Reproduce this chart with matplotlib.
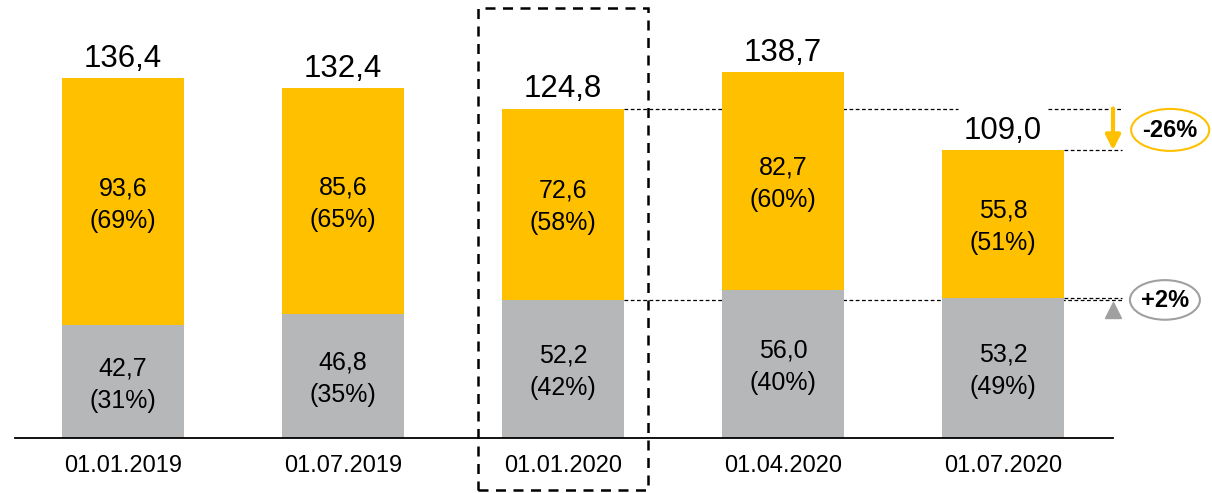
import matplotlib.pyplot as plt
from matplotlib.patches import Rectangle, Ellipse

plt.rcParams['font.family'] = ['Liberation Sans', 'DejaVu Sans']

# data
dates = ['01.01.2019', '01.07.2019', '01.01.2020', '01.04.2020', '01.07.2020']
gray_vals = [42.7, 46.8, 52.2, 56.0, 53.2]
yellow_vals = [93.6, 85.6, 72.6, 82.7, 55.8]
totals = ['136,4', '132,4', '124,8', '138,7', '109,0']
gray_pct = ['31%', '35%', '42%', '40%', '49%']
yellow_pct = ['69%', '65%', '58%', '60%', '51%']

YELLOW = '#FFC000'
GRAY = '#B6B7B9'

fig = plt.figure(figsize=(12.12, 4.93), dpi=100)
ax = fig.add_axes([0, 0, 1, 1])
ax.set_xlim(-123 / 220, (1212 - 123) / 220)
ax.set_ylim(-55 / 2.64, 438 / 2.64)
ax.axis('off')

x = list(range(len(dates)))
w = 122 / 220
ax.bar(x, gray_vals, width=w, color=GRAY, zorder=2)
ax.bar(x, yellow_vals, width=w, bottom=gray_vals, color=YELLOW, zorder=2)

def fmt(v):
    return f'{v:.1f}'.replace('.', ',')

for i in x:
    g, yv = gray_vals[i], yellow_vals[i]
    ax.text(i, g / 2 - 1, f'{fmt(g)}\n({gray_pct[i]})', ha='center', va='center',
            fontsize=18, linespacing=1.45, zorder=3)
    ax.text(i, g + yv / 2 - 1, f'{fmt(yv)}\n({yellow_pct[i]})', ha='center', va='center',
            fontsize=18, linespacing=1.45, zorder=3)
    ax.text(i, g + yv + 4.2, totals[i], ha='center', va='baseline', fontsize=22.5, zorder=3)
    ax.text(i, -10.6, dates[i], ha='center', va='center', fontsize=17)

# baseline
ax.plot([-0.49, 4.5], [0, 0], color='black', lw=1.3, zorder=4)

# dashed box around 01.01.2020
ax.add_patch(Rectangle((1.614, -19.7), 0.772, 182.6, fill=False, ls=(0, (4, 3)),
                       lw=1.8, ec='black', clip_on=False, zorder=5))

# reference lines
top3 = gray_vals[2] + yellow_vals[2]
top5 = gray_vals[4] + yellow_vals[4]
dash = dict(color='black', lw=0.9, ls=(0, (3, 2)), zorder=1)
ax.plot([2 + w / 2, 3.795], [top3, top3], **dash)
ax.plot([4.205, 4.54], [top3, top3], **dash)
ax.plot([4 + w / 2, 4.54], [top5, top5], **dash)
ax.plot([2 + w / 2, 4.54], [gray_vals[2], gray_vals[2]], **dash)
ax.plot([4 + w / 2, 4.54], [gray_vals[4], gray_vals[4]], **dash)

# change arrows
ax.annotate('', xy=(4.5, top5), xytext=(4.5, top3),
            arrowprops=dict(arrowstyle='-|>', color=YELLOW, lw=3,
                            mutation_scale=22, shrinkA=0, shrinkB=0))
ax.plot([4.5], [48.3], marker='^', markersize=12, color='#A0A0A0', zorder=3)

ax.add_patch(Ellipse((4.76, 116.7), 0.355, 15.9, fill=False, ec=YELLOW, lw=1.5))
ax.text(4.76, 116.5, '-26%', ha='center', va='center', fontsize=17, fontweight='bold')
ax.add_patch(Ellipse((4.736, 52.3), 0.318, 15.0, fill=False, ec='#A0A0A0', lw=1.5))
ax.text(4.736, 52.1, '+2%', ha='center', va='center', fontsize=17, fontweight='bold')

fig.savefig('out.png', dpi=100)
